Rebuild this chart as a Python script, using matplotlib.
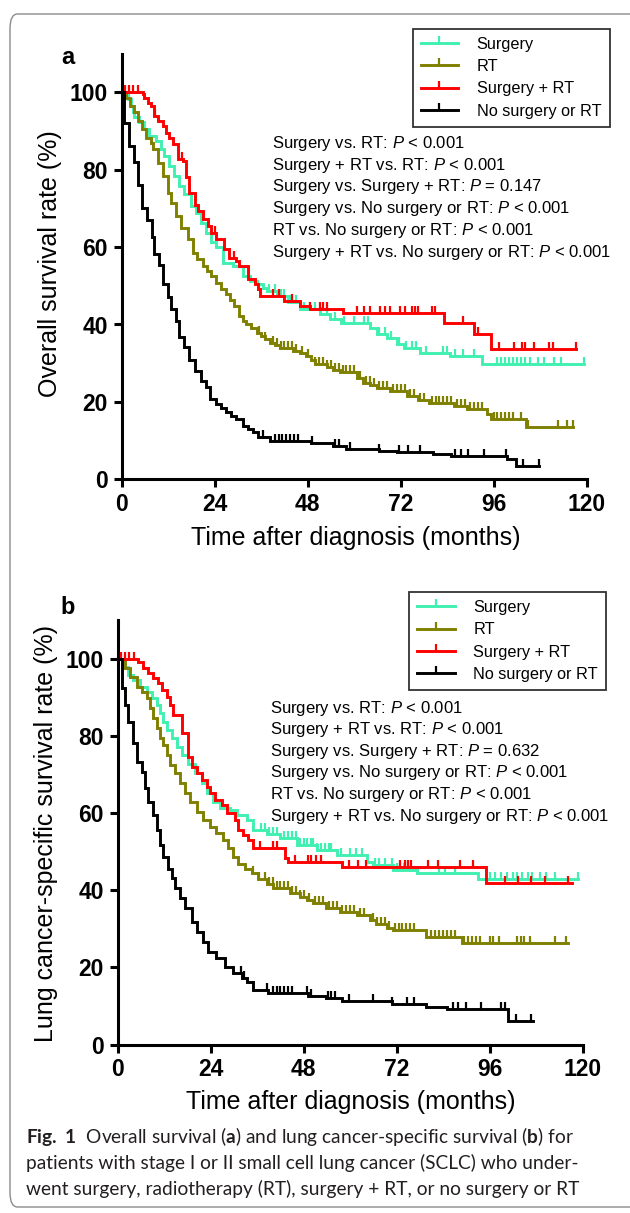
import numpy as np
import matplotlib
matplotlib.use('Agg')
import matplotlib.pyplot as plt
from matplotlib.lines import Line2D
from matplotlib.patches import FancyBboxPatch

plt.rcParams['font.family'] = ['Liberation Sans', 'DejaVu Sans']
plt.rcParams['mathtext.fontset'] = 'custom'
plt.rcParams['mathtext.rm'] = 'Liberation Sans'
plt.rcParams['mathtext.it'] = 'Liberation Sans:italic'
plt.rcParams['mathtext.bf'] = 'Lato:bold'

# ---- data (months, % surviving) ----
groups = ['Surgery', 'RT', 'Surgery + RT', 'No surgery or RT']
colors = ['#40F0B0', '#808000', '#FF0000', '#000000']

# panel a: overall survival
a_surg_t = [0, 1.5, 2.4, 2.8, 3.2, 4.5, 5.8, 7.1, 8.9, 10.2, 11, 12.3, 13.6, 14.9, 16.2, 17.9, 19.2, 20.5,
            21.8, 23.1, 24.4, 26.1, 28.7, 31.3, 33, 34.8, 36.5, 37.4, 40, 43, 46, 51.2, 53.8, 56.5, 64.1,
            65.9, 68.4, 71, 72.8, 77.1, 84.8, 93]
a_surg_s = [100, 98.2, 96.5, 94.8, 93.5, 92.2, 90.4, 88.7, 87.4, 85.3, 83.5, 81, 78.4, 75.8, 73.6, 70.6, 68.9,
            66.3, 63.7, 61.2, 59.9, 56, 55.1, 52.5, 51.2, 50.4, 49.5, 48.7, 47.4, 45.7, 43.9, 42.6, 41.5, 40.4,
            39.2, 37.5, 36.6, 34.9, 34, 32.7, 31.9, 29.7]
a_surg_end = 119.2
a_surg_c = [38, 39.5, 41, 42, 43.5, 45, 47, 48.5, 50, 51.5, 53, 55, 57.5, 60, 62.5, 63.5, 66.5, 68, 69.5, 71.5,
            73.5, 75, 76, 78.5, 83, 84, 86, 88, 91, 97, 98, 99, 100, 101, 102, 103, 104, 105.5, 107.5, 109,
            111.5, 113.5, 119.2]

a_rt_t = [0, 1.2, 2.2, 3.2, 4.2, 5.2, 6.3, 7.6, 8, 9.3, 10.6, 11.9, 12.7, 14, 15.3, 17, 18.3, 19.5, 20.9, 22,
          23.1, 24.4, 25.7, 27, 28, 29.1, 30.4, 31.3, 32.2, 33.5, 34.8, 36, 36.9, 38.2, 39.5, 40.8, 44.2, 46,
          47.6, 48.8, 49.9, 52.9, 54.6, 56.3, 60.7, 62.4, 64.2, 65.9, 69.3, 73.6, 76.5, 79.2, 85.7, 89.2, 94.4,
          95.2, 104.4]
a_rt_s = [100, 98.5, 96.5, 94.8, 92.5, 90.5, 88.3, 87, 85.3, 81.8, 78.4, 74.1, 71.5, 68, 65, 62, 58.6, 57,
          55.1, 53.8, 52.5, 50.8, 49.3, 47.8, 46.3, 44.8, 42.2, 41, 40, 39, 37.9, 37, 36.2, 35.3, 34.6, 34,
          33.2, 32.6, 31.9, 30.8, 29.7, 28.9, 28.2, 27.6, 26.3, 25, 24.3, 23.7, 22.8, 21.5, 20.6, 19.8, 18.9,
          18.1, 16.8, 15.6, 13.4]
a_rt_end = 116.4
a_rt_c = [35.5, 37, 39, 40, 41, 42, 43, 44, 45, 46.5, 48, 50, 51, 52, 53, 54, 55, 56, 57, 58, 59, 60, 61.5,
          63, 64, 65, 66.5, 67.5, 68.5, 70, 71, 72, 73, 74.5, 75.5, 77, 78, 80, 81, 82, 83, 84, 85, 86.5,
          87.5, 88.5, 90, 91, 92, 93, 96, 97, 98, 99, 100, 101, 103, 105, 112.5, 115, 116.4]

a_both_t = [0, 5.4, 5.8, 6.7, 7.6, 8.4, 9.3, 10.6, 11.4, 12.3, 13.2, 14.5, 15.8, 16.6, 17.5, 18.8, 19.6, 20.9,
            22.2, 23.1, 24.4, 26.5, 27.8, 29.6, 30.4, 32.6, 34.3, 35.2, 35.6, 42, 46, 48.6, 57, 83.1, 90.9,
            95.2]
a_both_s = [100, 99.5, 98.6, 97.3, 96.5, 93.9, 92.6, 91.3, 89.6, 88.3, 86.6, 82.7, 82.2, 78, 74.1, 71, 69.3,
            67.2, 65.5, 63.7, 62, 59.5, 57.3, 56.4, 55.1, 51.7, 50.4, 49.1, 47.4, 46.1, 44.8, 43.9, 43.1,
            40.3, 37.5, 33.6]
a_both_end = 117.2
a_both_c = [0.8, 1.8, 3, 4.2, 8.5, 15.5, 24, 29, 39, 40.5, 44, 48.6, 51.2, 52, 52.9, 60.7, 62.5, 64.1, 66.7,
            68, 69.3, 71.9, 73.2, 74.9, 75.8, 76.6, 80.1, 80.9, 88, 91.9, 97.4, 101.2, 103.4, 104.2, 106.4,
            110.3, 111.2, 117.2]

a_none_t = [0, 0.7, 1.8, 3.2, 4.2, 5.2, 6.5, 7.8, 8.4, 9.7, 10.6, 11.9, 12.7, 14, 14.9, 16.2, 17.5, 19, 20.5,
            21.8, 22.7, 24.4, 25.7, 27, 28.3, 29.6, 31.3, 32.6, 33.9, 35.2, 38.4, 48.9, 54.5, 58, 66.3, 71,
            80.3, 85, 99.5, 101.7]
a_none_s = [100, 92, 86, 82, 76, 70, 67, 62.5, 58.3, 55.3, 50.5, 47, 44, 41, 36.7, 34.1, 30.7, 28, 25.5, 23.8,
            20.8, 19.5, 18.3, 17.3, 16.4, 15.6, 13.9, 13, 12.2, 10.9, 9.9, 9.5, 8.6, 7.9, 7.3, 7.0, 6.5, 6.0,
            5.2, 3.4]
a_none_end = 107.6
a_none_c = [36.5, 39.5, 40.5, 41.5, 42.5, 43.5, 44.5, 45.5, 49, 55, 56, 59, 66.4, 71.5, 74, 77, 86, 87.5,
            89.5, 93.6, 99.3, 103.6, 107.6]

# panel b: lung cancer-specific survival
b_surg_t = [0, 1.5, 2.7, 4, 5.8, 7.5, 8.8, 10.1, 10.9, 11.8, 12.6, 13.9, 15.2, 16.5, 18.2, 19.9, 21.7, 23,
            24.7, 26.4, 29, 30.7, 33.3, 35, 38.5, 41.9, 46.2, 51.4, 56.5, 64.3, 66, 71.1, 77.2, 93.1]
b_surg_s = [100, 97.9, 95.7, 94.4, 92.7, 91.4, 89.7, 88, 85.8, 83.6, 81.5, 79.3, 77.2, 75, 72.8, 70.3, 67.7,
            65.1, 62.9, 61.2, 60.8, 59.5, 58.2, 55.6, 54.5, 53.4, 51.7, 50.4, 49.1, 47.4, 46.5, 45.2, 44.4,
            42.8]
b_surg_end = 118.9
b_surg_c = [37, 38, 39, 40, 41, 43, 44, 45, 46, 47, 48, 49, 50, 50.5, 51.5, 52.5, 53.5, 54.5, 55, 57.7, 60,
            61.5, 63, 66.3, 67.5, 69, 70.9, 72, 73, 74, 75, 83, 84.5, 87, 96, 97.5, 99, 100.5, 102, 103,
            104.5, 106, 107, 109, 110.5, 113, 118.9]

b_rt_t = [0, 1.9, 3.2, 4.9, 6.2, 7.5, 8.3, 9.2, 10.1, 10.9, 11.8, 12.6, 13.5, 14.8, 16.1, 17.4, 18.7, 20.4,
          22.1, 23.8, 25.5, 27.3, 28.5, 29.8, 31.1, 32.9, 34.6, 36.3, 38.5, 40.2, 44.5, 47, 48.8, 50.5, 53.9,
          57.4, 61.7, 65.1, 66.8, 69.4, 71.1, 79.7, 88.8]
b_rt_s = [100, 97.5, 95.3, 92.7, 91.4, 89.7, 87.1, 84.5, 81.9, 79.3, 77.6, 75, 72.4, 70.3, 67.7, 65.1, 62.9,
          60.3, 58.2, 56.4, 54.7, 53, 50.8, 48.7, 46.9, 45.6, 44.4, 43, 41.5, 40.5, 39.2, 38.2, 37.4, 36.6,
          35.3, 34.4, 33.5, 32.3, 31.2, 30.1, 29.7, 27.9, 26.2]
b_rt_end = 116.3
b_rt_c = [35, 36.5, 38, 39, 40, 41, 42, 43, 44, 45, 46, 47, 48, 49.5, 51, 52, 53, 54.5, 55.5, 56.5, 58, 59,
          60, 61, 62.5, 63.5, 66, 67, 68, 69, 70, 71.5, 72.5, 73.5, 74.5, 75.5, 76.5, 81, 82, 83, 84, 85,
          86, 87, 89.5, 90.5, 91.5, 92.5, 93.5, 96, 97, 98.5, 103, 104, 105, 106.5, 112.8, 115.8]

b_both_t = [0, 5.3, 6.6, 7.9, 9.2, 10.5, 11.4, 12.6, 13.5, 14.3, 16.5, 18.2, 19.1, 20.4, 21.7, 23, 23.8,
            25.1, 26.8, 28.1, 30.3, 31.1, 32.4, 33.7, 35, 43.2, 44, 57.8, 95.2]
b_both_s = [100, 99.2, 97.5, 96.2, 94.9, 93.6, 91.8, 90.1, 88, 85.4, 80.6, 74.6, 72, 70.3, 68.5, 66.8, 65.1,
            63.3, 62, 59.9, 58.2, 55.6, 54.3, 53, 50.8, 48.2, 47.4, 46.1, 41.8]
b_both_end = 117.2
b_both_c = [0.8, 1.8, 3, 4.2, 36.7, 40.2, 41, 45.8, 49.2, 50, 51.3, 52.6, 59.8, 62, 64.1, 72.8, 74.1, 74.9,
            75.8, 80.1, 82.6, 88.3, 91.7, 99.9, 103.4, 106.8, 110.3, 116.3]

b_none_t = [0, 1.0, 1.9, 2.7, 4.0, 4.9, 6.2, 7.1, 7.9, 9.2, 10.1, 10.9, 11.8, 13.1, 13.9, 14.8, 16.1, 17.4,
            19.1, 20.4, 22.1, 23.4, 25.5, 27.7, 29.8, 32, 33.3, 35, 38.9, 49.2, 53.9, 57.8, 70.7, 79.7, 84.9,
            100.8]
b_none_s = [100, 92.3, 88, 83.6, 78, 73.3, 70.7, 66.4, 62.9, 59.5, 55.6, 51.7, 48.7, 45.6, 43.1, 40.5, 37.9,
            35.3, 31.8, 29.2, 26.6, 24, 22.3, 20.2, 18.4, 17.2, 16.3, 14.1, 13.3, 12.6, 12.1, 11.3, 10.6, 9.8,
            9.1, 6.2]
b_none_end = 107.1
b_none_c = [31.8, 32.7, 38.5, 40.1, 41, 42, 43, 44, 45, 49, 49.9, 54.2, 55.1, 56, 59.8, 65.8, 70.9, 74.8,
            76.6, 86.6, 87.9, 90, 93.9, 99, 99.9, 102.9, 106.8]

pvals_a = ['Surgery vs. RT: $\\mathit{P}$ < 0.001',
           'Surgery + RT vs. RT: $\\mathit{P}$ < 0.001',
           'Surgery vs. Surgery + RT: $\\mathit{P}$ = 0.147',
           'Surgery vs. No surgery or RT: $\\mathit{P}$ < 0.001',
           'RT vs. No surgery or RT: $\\mathit{P}$ < 0.001',
           'Surgery + RT vs. No surgery or RT: $\\mathit{P}$ < 0.001']
pvals_b = [s.replace('0.147', '0.632') for s in pvals_a]

panel_a = [(a_surg_t, a_surg_s, a_surg_end, a_surg_c), (a_rt_t, a_rt_s, a_rt_end, a_rt_c),
           (a_both_t, a_both_s, a_both_end, a_both_c), (a_none_t, a_none_s, a_none_end, a_none_c)]
panel_b = [(b_surg_t, b_surg_s, b_surg_end, b_surg_c), (b_rt_t, b_rt_s, b_rt_end, b_rt_c),
           (b_both_t, b_both_s, b_both_end, b_both_c), (b_none_t, b_none_s, b_none_end, b_none_c)]

W, H = 630, 1213
fig = plt.figure(figsize=(W / 100, H / 100), dpi=100)


def fx(px):
    return px / W


def fy(py):
    return 1 - py / H


def draw_panel(ax, curves):
    for (t, s, end, cens), col in zip(curves, colors):
        t = np.array(t + [end])
        s = np.array(s + [s[-1]])
        ax.step(t, s, where='post', color=col, lw=2.1, solid_joinstyle='miter', clip_on=False, zorder=3)
        idx = np.searchsorted(t, cens, side='right') - 1
        ax.plot(cens, s[idx], ls='none', marker=2, ms=5, mew=1.6, color=col, clip_on=False, zorder=3)
    ax.set_xlim(0, 120)
    ax.set_ylim(0, 110)
    ax.set_xticks([0, 24, 48, 72, 96, 120])
    ax.set_yticks([0, 20, 40, 60, 80, 100])
    for sp in ['top', 'right']:
        ax.spines[sp].set_visible(False)
    for sp in ['left', 'bottom']:
        ax.spines[sp].set_linewidth(2.2)
    ax.tick_params(length=6, width=2.2, labelsize=16.5, pad=4)
    for lab in ax.get_xticklabels() + ax.get_yticklabels():
        lab.set_fontweight('bold')


def legend_for(ax, right_px, top_px):
    handles = [Line2D([], [], color=c, lw=2.1, marker=2, ms=5, mew=1.6) for c in colors]
    leg = ax.legend(handles, groups, loc='upper right', bbox_to_anchor=(fx(right_px), fy(top_px)),
                    bbox_transform=fig.transFigure, fontsize=11.7, frameon=True, fancybox=False,
                    edgecolor='black', handlelength=2.3, handletextpad=1.15, labelspacing=0.45,
                    borderpad=0.5, borderaxespad=0, numpoints=1)
    leg.get_frame().set_linewidth(1.3)
    return leg


# outer rounded frame
fig.patches.append(FancyBboxPatch((fx(10), fy(1207)), fx(660) - fx(10), fy(14) - fy(1207),
                                  boxstyle='round,pad=0,rounding_size=0.012', transform=fig.transFigure,
                                  fill=False, edgecolor='#8c8c8c', lw=1.0))

# panel a
ax1 = fig.add_axes([fx(121.7), fy(479.3), fx(586.6) - fx(121.7), fy(53.6) - fy(479.3)])
draw_panel(ax1, panel_a)
legend_for(ax1, 609.5, 28.6)
fig.text(fx(68), fy(57), 'a', fontsize=17, fontweight='bold', ha='center', va='center')
fig.text(fx(50), fy(264), 'Overall survival rate (%)', rotation=90, fontsize=18, ha='center', va='center')
fig.text(fx(355.5), fy(537.5), 'Time after diagnosis (months)', fontsize=18, ha='center', va='center')
for i, line in enumerate(pvals_a):
    fig.text(fx(272), fy(143.6 + i * 21.7), line, fontsize=12, ha='left', va='center')

# panel b
ax2 = fig.add_axes([fx(117.7), fy(1044.5), fx(582.5) - fx(117.7), fy(620) - fy(1044.5)])
draw_panel(ax2, panel_b)
legend_for(ax2, 606, 592)
fig.text(fx(68), fy(608), 'b', fontsize=17, fontweight='bold', ha='center', va='center')
fig.text(fx(46), fy(833), 'Lung cancer-specific survival rate (%)', rotation=90, fontsize=18,
         ha='center', va='center')
fig.text(fx(351), fy(1102), 'Time after diagnosis (months)', fontsize=18, ha='center', va='center')
for i, line in enumerate(pvals_b):
    fig.text(fx(270), fy(708 + i * 21.6), line, fontsize=12, ha='left', va='center')

# caption
caption = [r'$\mathbf{Fig.\ 1}$  Overall survival ($\mathbf{a}$) and lung cancer-specific survival ($\mathbf{b}$) for',
           'patients with stage I or II small cell lung cancer (SCLC) who under-',
           'went surgery, radiotherapy (RT), surgery + RT, or no surgery or RT']
for i, line in enumerate(caption):
    fig.text(fx(26), fy(1136.5 + i * 26.1), line, fontsize=13.8, family='Lato', color='#231f20',
             ha='left', va='center')

fig.savefig('out.png', dpi=100)
